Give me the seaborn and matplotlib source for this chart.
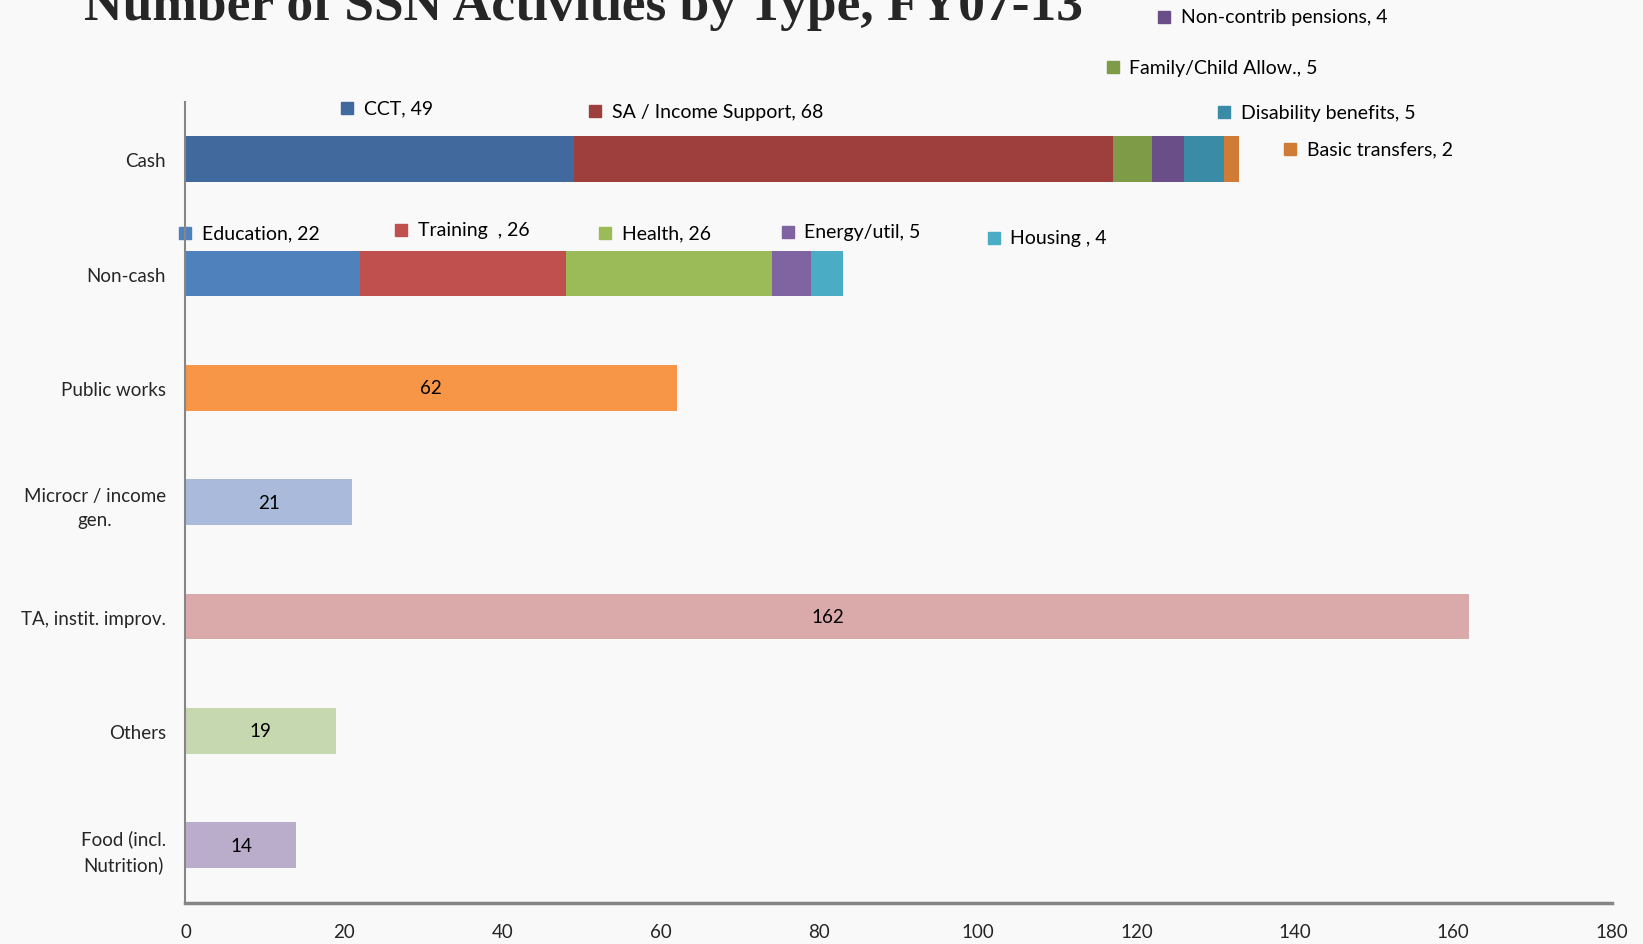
"""
Number of SSN Activities by Type, FY07-13
Horizontal bar chart, two stacked rows (Cash, Non-cash) + single bars.
"""

import numpy as np
import pandas as pd
import matplotlib
matplotlib.use("Agg")
import matplotlib.pyplot as plt
from matplotlib.ticker import FixedLocator
import seaborn as sns

# ── Data ──────────────────────────────────────────────────────────────────────
CATEGORIES = ["Cash", "Non-cash", "Public works", "Microcr / income\ngen.",
              "TA, instit. improv.", "Others", "Food (incl.\nNutrition)"]

CASH_PARTS  = ["CCT", "SA / Income Support", "Family/Child Allow.",
               "Non-contrib pensions", "Disability benefits", "Basic transfers"]
CASH_VALUES = [49, 68, 5, 4, 5, 2]

NONCASH_PARTS  = ["Education", "Training  ", "Health", "Energy/util", "Housing "]
NONCASH_VALUES = [22, 26, 26, 5, 4]

SINGLE_CATS   = CATEGORIES[2:]
SINGLE_VALUES = [62, 21, 162, 19, 14]

# ── Style constants ───────────────────────────────────────────────────────────
CASH_COLORS    = ["#41699E", "#9E3F3D", "#7E9B48", "#694E88", "#3A8BA5", "#D07B36"]
NONCASH_COLORS = ["#4F81BD", "#C0504D", "#9BBB59", "#8064A2", "#4BACC6"]
SINGLE_COLORS  = ["#F79646", "#A9BADA", "#DAA9AA", "#C6D8AF", "#B9ADCB"]

# label anchors for the stacked segments (data coords: x value, y category pos)
CASH_LABEL_XY = [(20.4, -0.45), (51.7, -0.42), (117.0, -0.805),
                 (123.5, -1.244), (131.1, -0.41), (139.4, -0.09)]
NONCASH_LABEL_XY = [(0.0, 0.643), (27.2, 0.616), (53.0, 0.643),
                    (76.0, 0.634), (102.0, 0.689)]

BAR_W = 0.4
FONT = "Lato"
FS_TICK = 13.5
FS_LBL = 14
AXIS_GREY = "#868686"
BG = "#f9f9f9"

sns.set_style("white")
plt.rcParams["font.family"] = [FONT, "DejaVu Sans"]

fig = plt.figure(figsize=(16.43, 9.45), dpi=100, facecolor=BG)
ax = fig.add_axes([0.1129, 0.0439, 0.8681, 0.8471])
ax.set_facecolor(BG)


# ══════════════════════════════════════════════════════════════════════════════
# Stacked rows: draw cumulative totals back-to-front so earlier parts overlay
# ══════════════════════════════════════════════════════════════════════════════

def stacked_row(cat, values, colors):
    cum = np.cumsum(values)
    for total, col in reversed(list(zip(cum, colors))):
        df = pd.DataFrame({"cat": [cat], "val": [total]})
        sns.barplot(data=df, x="val", y="cat", order=CATEGORIES, orient="h",
                    color=col, width=BAR_W, saturation=1, linewidth=0, ax=ax)


stacked_row("Cash", CASH_VALUES, CASH_COLORS)
stacked_row("Non-cash", NONCASH_VALUES, NONCASH_COLORS)

# single bars
single_df = pd.DataFrame({"cat": SINGLE_CATS, "val": SINGLE_VALUES})
sns.barplot(data=single_df, x="val", y="cat", order=CATEGORIES, orient="h",
            hue="cat", palette=dict(zip(SINGLE_CATS, SINGLE_COLORS)),
            width=BAR_W, saturation=1, linewidth=0, legend=False, ax=ax)

# value labels centred in the single bars
for cat, val in zip(SINGLE_CATS, SINGLE_VALUES):
    ax.text(val / 2, CATEGORIES.index(cat), f"{val}", ha="center", va="center",
            fontsize=FS_TICK, color="black")


# ── Segment labels with a small colour key ────────────────────────────────────
def seg_labels(parts, values, colors, anchors):
    for name, val, col, (x, y) in zip(parts, values, colors, anchors):
        ax.plot(x, y, marker="s", markersize=8, color=col, clip_on=False,
                linestyle="none")
        ax.annotate(f"{name}, {val}", (x, y), xytext=(12, 0),
                    textcoords="offset points", ha="left", va="center",
                    fontsize=FS_LBL, color="black", annotation_clip=False)


seg_labels(CASH_PARTS, CASH_VALUES, CASH_COLORS, CASH_LABEL_XY)
seg_labels(NONCASH_PARTS, NONCASH_VALUES, NONCASH_COLORS, NONCASH_LABEL_XY)


# ── Axes styling (Excel-like) ─────────────────────────────────────────────────
ax.set_xlim(0, 180)
ax.set_ylim(len(CATEGORIES) - 0.5, -0.5)
ax.set_xticks(np.arange(0, 181, 20))
ax.set_yticks(range(len(CATEGORIES)))
ax.set_yticklabels(CATEGORIES)
ax.yaxis.set_minor_locator(FixedLocator(np.arange(-0.5, len(CATEGORIES), 1)))
ax.set_xlabel("")
ax.set_ylabel("")

for side in ("top", "right"):
    ax.spines[side].set_visible(False)
ax.spines["left"].set_color(AXIS_GREY)
ax.spines["left"].set_linewidth(1.5)
ax.spines["bottom"].set_color(AXIS_GREY)
ax.spines["bottom"].set_linewidth(2.5)

ax.tick_params(axis="y", which="major", length=0, pad=14, labelsize=FS_TICK)
ax.tick_params(axis="y", which="minor", length=5, width=1.2, color=AXIS_GREY,
               direction="out")
ax.tick_params(axis="x", which="major", length=7, width=1, color=AXIS_GREY,
               direction="out", pad=8, labelsize=FS_TICK)
for lbl in ax.get_yticklabels():
    lbl.set_multialignment("center")
    lbl.set_linespacing(1.55)

fig.text(0.0511, 0.979, "Number of SSN Activities by Type, FY07-13",
         ha="left", va="baseline", fontsize=38.5, fontweight="bold",
         family=["Liberation Serif", "DejaVu Serif"])

fig.savefig("out.png", dpi=100, facecolor=BG)
plt.close(fig)
